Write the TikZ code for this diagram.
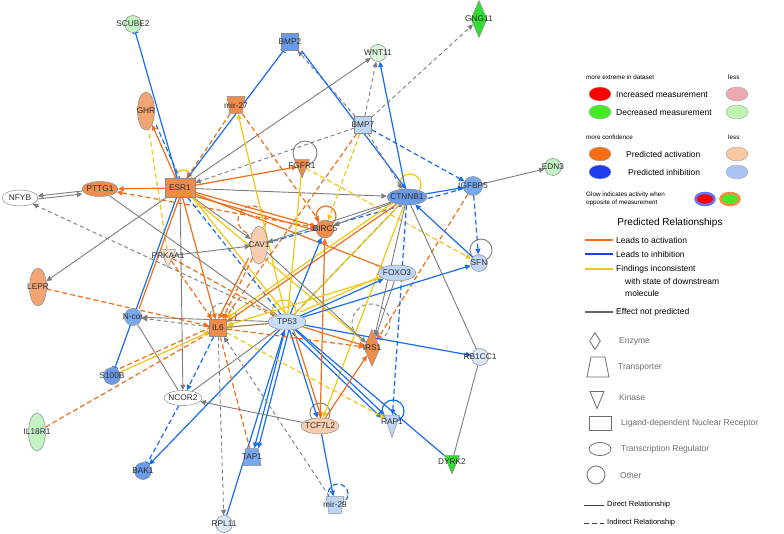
\documentclass[tikz,border=0pt]{standalone}
\usepackage{fontspec}
\setmainfont{Liberation Sans}
\usetikzlibrary{shapes.geometric,arrows.meta,backgrounds}
\definecolor{eor}{RGB}{242,110,25}
\definecolor{ebl}{RGB}{25,110,240}
\definecolor{eye}{RGB}{240,200,20}
\definecolor{egr}{RGB}{125,125,125}
\definecolor{nor}{RGB}{238,140,75}
\definecolor{nor2}{RGB}{242,165,115}
\definecolor{norl}{RGB}{248,205,175}
\definecolor{norx}{RGB}{251,226,208}
\definecolor{nbl}{RGB}{105,155,232}
\definecolor{nbl2}{RGB}{120,168,238}
\definecolor{nbll}{RGB}{190,214,246}
\definecolor{nbll2}{RGB}{200,222,248}
\definecolor{nblx}{RGB}{218,232,250}
\definecolor{ngr}{RGB}{50,220,50}
\definecolor{ngrl}{RGB}{195,242,195}
\definecolor{ngrx}{RGB}{222,246,222}
\definecolor{nbd}{RGB}{140,140,140}
\definecolor{ntx}{RGB}{45,45,45}
\definecolor{lpink}{RGB}{235,170,175}
\definecolor{lgrn}{RGB}{70,235,40}
\definecolor{lgrnl}{RGB}{190,245,175}
\definecolor{lorg}{RGB}{245,110,20}
\definecolor{lorgl}{RGB}{248,200,160}
\definecolor{lblu}{RGB}{30,60,235}
\definecolor{lblul}{RGB}{170,195,245}
\definecolor{lsg}{RGB}{110,110,110}
\begin{document}
\begin{tikzpicture}[x=1pt,y=-1pt,
  nbase/.style={draw=nbd, line width=0.5pt, inner sep=0pt, font=\fontsize{8.3}{9}\selectfont, text=ntx},
  circ/.style={nbase, circle, minimum size=17pt},
  ellh/.style={nbase, ellipse, minimum width=38pt, minimum height=16pt},
  ellv/.style={nbase, ellipse, minimum width=17pt, minimum height=38pt},
  sq/.style={nbase, rectangle, minimum size=17pt},
  diam/.style={nbase, diamond, minimum width=16pt, minimum height=37pt},
  kin/.style={nbase, isosceles triangle, isosceles triangle stretches, shape border rotate=270, minimum width=15pt, minimum height=18pt},
  trap/.style={nbase, trapezium, trapezium stretches=true, trapezium left angle=72, trapezium right angle=72, minimum width=18pt, minimum height=17pt},
  trapi/.style={trap, shape border rotate=180},
  ea/.style={draw=eor, line width=1.2pt},
  ead/.style={ea, dash pattern=on 5pt off 3pt},
  eb/.style={draw=ebl, line width=1.2pt},
  ebd/.style={eb, dash pattern=on 5pt off 3pt},
  ey/.style={draw=eye, line width=1.2pt},
  eyd/.style={ey, dash pattern=on 5pt off 3pt},
  eg/.style={draw=egr, line width=0.9pt},
  egd/.style={eg, dash pattern=on 4pt off 3pt},
  arr/.style={-{Triangle[length=5.5pt,width=5pt]}},
  tee/.style={-{Bar[width=6pt,line width=1pt]}},
  lsm/.style={font=\fontsize{6.3}{7.5}\selectfont, inner sep=0pt, anchor=west},
  ltx/.style={font=\fontsize{8.5}{10}\selectfont, inner sep=0pt, anchor=west},
  lsh/.style={font=\fontsize{8.5}{10}\selectfont, inner sep=0pt, anchor=west, text=lsg},
  lell/.style={ellipse, draw=gray!60, line width=0.5pt, minimum width=22pt, minimum height=14pt, inner sep=0pt},
  lshape/.style={draw=lsg, line width=0.8pt, fill=white, inner sep=1pt}
]
\useasboundingbox (0,0) rectangle (784,534);

% ---------------- nodes ----------------
\node[circ, fill=ngrl] (SCUBE2) at (133,24) {\makebox[0pt]{SCUBE2}};
\node[ellv, fill=nor2] (GHR) at (146,111) {\makebox[0pt]{GHR}};
\node[trapi, fill=nor] (mir27) at (236,105) {\makebox[9pt]{mir-27}};
\node[sq, fill=nbl] (BMP2) at (290,42) {\makebox[0pt]{BMP2}};
\node[circ, fill=ngrx] (WNT11) at (378,53) {\makebox[0pt]{WNT11}};
\node[diam, fill=ngr] (GNG11) at (479,19) {\makebox[0pt]{GNG11}};
\node[sq, fill=nbll] (BMP7) at (363,125) {\makebox[0pt]{BMP7}};
\node[kin, fill=nor] (FGFR1) at (302,166) {\makebox[0pt]{FGFR1}};
\node[nbase, rectangle, minimum width=30pt, minimum height=19pt, fill=nor] (ESR1) at (180,188) {\makebox[0pt]{ESR1}};
\node[ellh, minimum width=36pt, minimum height=15pt, fill=nor] (PTTG1) at (100,189) {\makebox[0pt]{PTTG1}};
\node[ellh, minimum width=36pt, fill=white] (NFYB) at (20,198) {\makebox[0pt]{NFYB}};
\node[ellh, minimum width=40pt, fill=nbl] (CTNNB1) at (407,197) {\makebox[0pt]{CTNNB1}};
\node[circ, minimum size=19pt, fill=nbl2] (IGFBP5) at (473,186) {\makebox[0pt]{IGFBP5}};
\node[circ, fill=ngrl] (EDN3) at (553,167) {\makebox[0pt]{EDN3}};
\node[circ, minimum size=18pt, fill=nor] (BIRC5) at (325,229) {\makebox[0pt]{BIRC5}};
\node[ellv, fill=norl] (CAV1) at (259,245) {\makebox[0pt]{CAV1}};
\node[kin, fill=norx] (PRKAA1) at (168,256) {\makebox[0pt]{PRKAA1}};
\node[ellv, fill=nor2] (LEPR) at (38,287) {\makebox[0pt]{LEPR}};
\node[ellh, fill=nbll] (FOXO3) at (397,273) {\makebox[0pt]{FOXO3}};
\node[circ, fill=nbll] (SFN) at (479,263) {\makebox[0pt]{SFN}};
\node[circ, fill=nbl2] (Ncor) at (133,317) {\makebox[0pt]{N-cor}};
\node[sq, fill=nor] (IL6) at (218,328) {\makebox[0pt]{IL6}};
\node[ellh, fill=nbll2] (TP53) at (287,322) {\makebox[0pt]{TP53}};
\node[diam, fill=nor] (IRS1) at (372,348) {\makebox[0pt]{IRS1}};
\node[circ, fill=nblx] (RB1CC1) at (480,357) {\makebox[0pt]{RB1CC1}};
\node[circ, fill=nbl] (S100B) at (112,376) {\makebox[0pt]{S100B}};
\node[ellh, minimum height=15pt, fill=white] (NCOR2) at (183,398) {\makebox[0pt]{NCOR2}};
\node[ellv, fill=ngrl] (IL18R1) at (37,432) {\makebox[0pt]{IL18R1}};
\node[ellh, fill=norl] (TCF7L2) at (320,426) {\makebox[0pt]{TCF7L2}};
\node[kin, minimum height=22pt, fill=nbll] (RAP1) at (392,422) {\makebox[0pt]{RAP1}};
\node[kin, fill=ngr] (DYRK2) at (452,462) {\makebox[0pt]{DYRK2}};
\node[circ, fill=nbl] (BAK1) at (143,471) {\makebox[0pt]{BAK1}};
\node[trap, fill=nbl2] (TAP1) at (252,457) {\makebox[9pt]{TAP1}};
\node[trapi, fill=nbll] (mir29) at (335,505) {\makebox[8pt]{mir-29}};
\node[circ, fill=nblx] (RPL11) at (224,524) {\makebox[0pt]{RPL11}};

% ---------------- connectors ----------------
\begin{scope}[on background layer]
\fill[white] (0,0) rectangle (784,534);
% self loops
\draw[ey] ([xshift=3pt,yshift=9pt]ESR1.center) circle[radius=9pt];
\draw[eg] ([xshift=3pt,yshift=13pt]FGFR1.center) circle[radius=12pt];
\draw[ey] ([xshift=3pt,yshift=12pt]CTNNB1.center) circle[radius=11pt];
\draw[ea] ([xshift=1pt,yshift=13pt]BIRC5.center) circle[radius=10pt];
\draw[ead] ([xshift=-7pt,yshift=25pt]CAV1.center) circle[radius=14pt];
\draw[eg] ([xshift=2pt,yshift=13pt]SFN.center) circle[radius=11pt];
\draw[ey] ([xshift=-3pt,yshift=10pt]TP53.center) circle[radius=12pt];
\draw[egd] ([xshift=5pt,yshift=12pt]IL6.center) circle[radius=13pt];
\draw[egd] ([xshift=-1pt,yshift=25pt]IRS1.center) circle[radius=19pt];
\draw[eg] ([yshift=13pt]TCF7L2.center) circle[radius=10pt];
\draw[eb] ([xshift=1pt,yshift=11pt]RAP1.center) circle[radius=11pt];
\draw[ebd] ([xshift=3pt,yshift=11pt]mir29.center) circle[radius=10pt];

% ESR1
\draw[eb,tee] (ESR1) -- (SCUBE2);
\draw[ea,arr] (ESR1) -- (GHR);
\draw[ebd,transform canvas={xshift=4pt}] (GHR) -- (ESR1);
\draw[eyd] (PRKAA1) -- (GHR);
\draw[ead,arr] (mir27) -- (ESR1);
\draw[eb,tee] (ESR1) -- (BMP2);
\draw[eg,arr] (ESR1) -- (WNT11);
\draw[egd,arr] (BMP7) -- (ESR1);
\draw[ea,arr] (ESR1) -- (FGFR1);
\draw[eg,arr] (ESR1) -- (CTNNB1);
\draw[ea,arr] (ESR1) -- (BIRC5);
\draw[ea,arr,transform canvas={yshift=-4pt}] (ESR1) -- (BIRC5);
\draw[ea] (ESR1) -- (FOXO3);
\draw[ea,arr] (ESR1) -- (PTTG1);
\draw[ead,arr] (BIRC5) -- (PTTG1);
\draw[eg,arr] (ESR1) -- (LEPR);
\draw[eg,arr] (ESR1) -- (NCOR2);
\draw[eg,arr] (ESR1) -- (CAV1);
\draw[eb,tee] (ESR1) -- (S100B);
\draw[ea,transform canvas={xshift=3pt}] (ESR1) -- (Ncor);
\draw[ea,arr] (ESR1) -- (IL6);
\draw[ebd] (ESR1) -- (TP53);
\draw[ey,transform canvas={xshift=5pt}] (ESR1) -- (TP53);
\draw[ey] (ESR1) -- (IRS1);
% mir-27, BMP2, BMP7
\draw[ey,arr] (TP53) -- (mir27);
\draw[ead,arr] (mir27) -- (BIRC5);
\draw[egd,arr] (BMP7) -- (BMP2);
\draw[eb,arr,transform canvas={xshift=5pt}] (BMP2) -- (CTNNB1);
\draw[egd,arr] (BMP7) -- (WNT11);
\draw[eb,arr] (CTNNB1) -- (WNT11);
\draw[egd,arr] (BMP7) -- (GNG11);
\draw[ebd,arr] (BMP7) -- (IGFBP5);
\draw[ead,arr] (BMP7) -- (IL6);
\draw[eyd,arr] (BMP7) -- (BIRC5);
\draw[egd,arr] (BMP7) -- (CTNNB1);
% CTNNB1, IGFBP5, SFN
\draw[eb,arr] (CTNNB1) -- (IGFBP5);
\draw[eg,arr] (IGFBP5) -- (EDN3);
\draw[ebd,arr] (IGFBP5) -- (SFN);
\draw[ebd] (IGFBP5) -- (CAV1);
\draw[ead,arr] (IGFBP5) -- (IRS1);
\draw[eb,arr] (SFN) -- (CTNNB1);
\draw[eb,arr] (TP53) -- (SFN);
\draw[eyd,arr] (FGFR1) -- (SFN);
\draw[eg] (CTNNB1) -- (RB1CC1);
\draw[eg] (RB1CC1) -- (DYRK2);
\draw[eb,arr] (TP53) -- (RB1CC1);
\draw[ebd,arr] (CTNNB1) -- (RAP1);
\draw[ebd] (CTNNB1) -- (TP53);
\draw[eg,arr] (CTNNB1) -- (BIRC5);
\draw[eg,arr] (CTNNB1) -- (CAV1);
\draw[eg,arr] (CTNNB1) -- (IRS1);
\draw[ea,arr] (CTNNB1) -- (IL6);
\draw[ey,arr,transform canvas={yshift=4pt}] (CTNNB1) -- (IL6);
\draw[ey] (CTNNB1) -- (TP53);
\draw[ey,arr] (CTNNB1) -- (TCF7L2);
% TP53
\draw[eb] (TP53) -- (DYRK2);
\draw[eb,arr] (TP53) -- (RAP1);
\draw[eb,arr,transform canvas={xshift=-3pt,yshift=-3pt}] (TP53) -- (RAP1);
\draw[eb,arr] (TP53) -- (TAP1);
\draw[eb,arr,transform canvas={xshift=4pt}] (TP53) -- (TAP1);
\draw[eb,arr] (RPL11) -- (TP53);
\draw[eb,arr] (TP53) -- (BAK1);
\draw[eb,arr] (TP53) -- (TCF7L2);
\draw[ea,arr,transform canvas={xshift=4pt}] (TP53) -- (TCF7L2);
\draw[ea,arr] (TP53) -- (IRS1);
\draw[eb,arr] (TP53) -- (FOXO3);
\draw[ey,transform canvas={yshift=4pt}] (TP53) -- (FOXO3);
\draw[eb,arr] (TP53) -- (BIRC5);
\draw[ey,arr] (TP53) -- (IL6);
\draw[eg] (IL6) -- (TP53);
\draw[eg,arr] (TP53) -- (Ncor);
\draw[egd,arr] (TP53) -- (NFYB);
\draw[eg] (PTTG1) -- (TP53);
\draw[ey] (FGFR1) -- (TP53);
% NCOR2, IL6
\draw[ebd,tee] (NCOR2) -- (BAK1);
\draw[ebd,arr] (IL6) -- (NCOR2);
\draw[eg] (Ncor) -- (NCOR2);
\draw[eg,arr] (TCF7L2) -- (NCOR2);
\draw[eg] (NCOR2) -- (TP53);
\draw[egd,arr] (IL6) -- (RPL11);
\draw[ead] (IL6) -- (TAP1);
\draw[egd,arr] (mir29) -- (IL6);
\draw[eyd,arr] (IL6) -- (RAP1);
\draw[ead,arr] (IL6) -- (IRS1);
\draw[egd,arr] (IL6) -- (Ncor);
% TCF7L2, FOXO3
\draw[eb,arr] (TCF7L2) -- (mir29);
\draw[ea,arr] (TCF7L2) -- (IRS1);
\draw[ea,arr] (TCF7L2) -- (BIRC5);
\draw[eg,arr] (FOXO3) -- (IRS1);
\draw[ey,arr] (FOXO3) -- (IL6);
\draw[eg,arr] (CAV1) -- (IRS1);
% left side
\draw[eg,arr] (PTTG1) -- (NFYB);
\draw[eg,arr,transform canvas={yshift=-3pt}] (NFYB) -- (PTTG1);
\draw[eg,arr] (PRKAA1) -- (CAV1);
\draw[ead,arr] (PRKAA1) -- (IL6);
\draw[ead] (PRKAA1) -- (TP53);
\draw[ead,arr] (LEPR) -- (IL6);
\draw[ead,tee] (IL18R1) -- (IL6);
\draw[ey,arr] (S100B) -- (IL6);
\draw[ead,tee,transform canvas={yshift=4pt}] (S100B) -- (IL6);
\draw[ead,arr] (CAV1) -- (IL6);
\draw[ea,arr,transform canvas={xshift=-4pt}] (CAV1) -- (IL6);
\end{scope}

% ---------------- legend ----------------
\node[lsm] (lme) at (586,77) {more extreme in dataset};
\node[lsm] (lls1) at (728,77) {less};
\node[lell, fill=red] (lred) at (600,94) {};
\node[ltx] (linc) at (616,94) {Increased measurement};
\node[lell, fill=lpink] (lpk) at (737,94) {};
\node[lell, fill=lgrn] (lgr) at (600,112) {};
\node[ltx] (ldec) at (616,112) {Decreased measurement};
\node[lell, fill=lgrnl] (lgrl) at (737,112) {};
\node[lsm] (lmc) at (586,137) {more confidence};
\node[lsm] (lls2) at (728,137) {less};
\node[lell, fill=lorg] (lor) at (600,154) {};
\node[ltx] (lact) at (626,154) {Predicted activation};
\node[lell, fill=lorgl] (lorl) at (737,154) {};
\node[lell, fill=lblu] (lbl) at (600,172) {};
\node[ltx] (linh) at (628,172) {Predicted inhibition};
\node[lell, fill=lblul] (lbll) at (737,172) {};
\node[lsm, align=left] (lglow) at (586,199) {Glow indicates activity when\\opposite of measurement};
\node[lell, fill=red, draw=lblu!70, line width=2.5pt, minimum width=19pt, minimum height=12pt] (lg1) at (705,199) {};
\node[lell, fill=lgrn, draw=lorg!80, line width=2.5pt, minimum width=19pt, minimum height=12pt] (lg2) at (730,199) {};
\node[font=\fontsize{10}{12}\selectfont, inner sep=0pt] (lpr) at (670,223) {Predicted Relationships};
\coordinate (la1) at (585,240); \coordinate (la2) at (613,240);
\draw[draw=lorg, line width=2pt] (la1) -- (la2);
\node[ltx] (lta) at (616,240) {Leads to activation};
\coordinate (lb1) at (585,254); \coordinate (lb2) at (613,254);
\draw[draw=lblu, line width=2pt] (lb1) -- (lb2);
\node[ltx] (ltb) at (616,254) {Leads to inhibition};
\coordinate (lc1) at (585,269); \coordinate (lc2) at (613,269);
\draw[draw=eye, line width=2pt] (lc1) -- (lc2);
\node[ltx] (ltc) at (616,269) {Findings inconsistent};
\node[ltx] (ltc2) at (625,281) {with state of downstream};
\node[ltx] (ltc3) at (625,293) {molecule};
\coordinate (ld1) at (585,312); \coordinate (ld2) at (613,312);
\draw[draw=gray!80!black, line width=2pt] (ld1) -- (ld2);
\node[ltx] (ltd) at (616,312) {Effect not predicted};
\node[lshape, diamond, minimum width=11pt, minimum height=17pt] (lenz) at (595,341) {};
\node[lsh] (lte) at (619,341) {Enzyme};
\node[lshape, trapezium, trapezium stretches=true, trapezium left angle=76, trapezium right angle=76, minimum width=22pt, minimum height=20pt] (ltra) at (598,367) {\makebox[10pt]{\strut}};
\node[lsh] (ltt) at (618,367) {Transporter};
\node[lshape, isosceles triangle, isosceles triangle stretches, shape border rotate=270, minimum width=14pt, minimum height=17pt] (lkin) at (597,396) {};
\node[lsh] (ltk) at (619,397) {Kinase};
\node[lshape, rectangle, minimum width=22pt, minimum height=14pt] (llig) at (600,423) {};
\node[lsh] (ltl) at (621,423) {Ligand-dependent Nuclear Receptor};
\node[lshape, ellipse, minimum width=22pt, minimum height=13pt] (ltr) at (600,449) {};
\node[lsh] (ltr2) at (621,449) {Transcription Regulator};
\node[lshape, circle, minimum size=18pt] (loth) at (596,475) {};
\node[lsh] (lto) at (620,475) {Other};
\coordinate (le1) at (584,505); \coordinate (le2) at (604,505);
\draw[draw=black!75, line width=1pt] (le1) -- (le2);
\node[lsm, font=\fontsize{7.5}{9}\selectfont] (ltdr) at (607,505) {Direct Relationship};
\coordinate (lf1) at (584,523); \coordinate (lf2) at (604,523);
\draw[draw=black!75, line width=1pt, dash pattern=on 5pt off 3pt] (lf1) -- (lf2);
\node[lsm, font=\fontsize{7.5}{9}\selectfont] (ltir) at (607,523) {Indirect Relationship};
\end{tikzpicture}
\end{document}
